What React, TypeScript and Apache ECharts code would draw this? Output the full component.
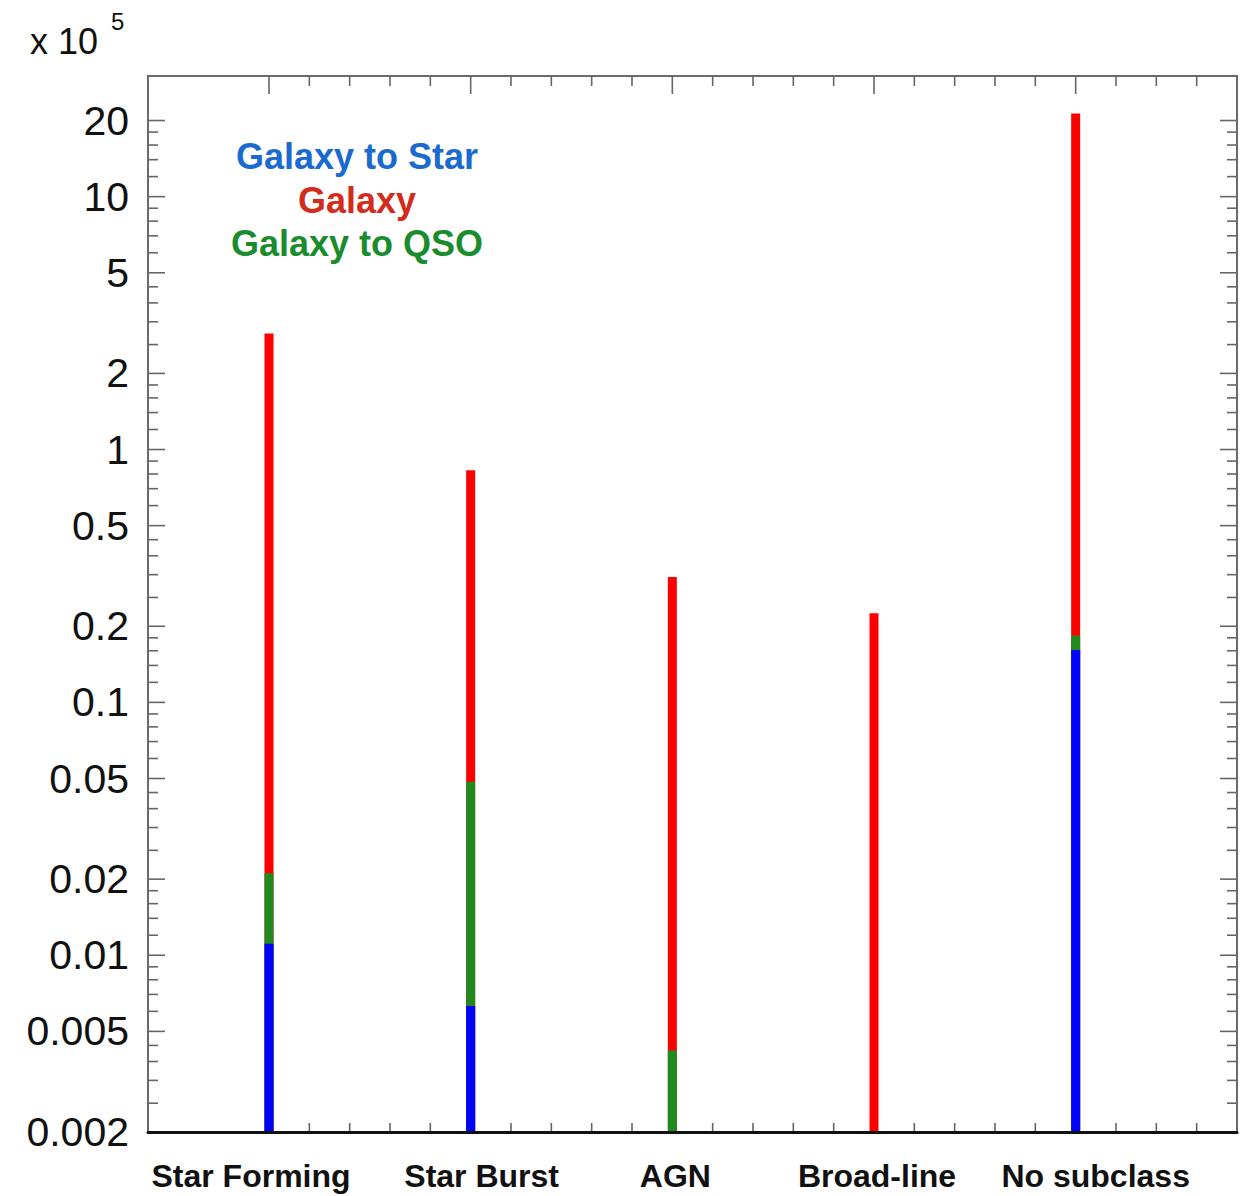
import React, { useEffect, useRef } from 'react';
import * as echarts from 'echarts';

// ---------- data (counts in units of 10^5) ----------
const CATEGORIES = ['Star Forming', 'Star Burst', 'AGN', 'Broad-line', 'No subclass'];
const CATEGORY_X = [1, 2, 3, 4, 5];
const GALAXY_TO_STAR = [0.0111, 0.0063, 0, 0, 0.161];
const GALAXY_TO_QSO = [0.01, 0.0422, 0.0042, 0, 0.023];
const GALAXY = [2.857, 0.779, 0.309, 0.225, 21.12];

// ---------- axis ticks ----------
const Y_TICK_VALUES = [20, 10, 5, 2, 1, 0.5, 0.2, 0.1, 0.05, 0.02, 0.01, 0.005, 0.002];
const Y_TICK_LABELS = ['20', '10', '5', '2', '1', '0.5', '0.2', '0.1', '0.05', '0.02', '0.01', '0.005', '0.002'];
const X_MAJOR_TICKS = [1, 2, 3, 4, 5];
const X_MINOR_TICKS = [
  1.2, 1.4, 1.6, 1.8, 2.2, 2.4, 2.6, 2.8, 3.2, 3.4, 3.6, 3.8,
  4.2, 4.4, 4.6, 4.8, 5.2, 5.4, 5.6,
];

const X_MIN = 0.4;
const X_MAX = 5.8;
const Y_MIN = 0.002;
const Y_MAX = 30;

// ---------- style / layout ----------
const FONT = '"Liberation Sans", Arial, Helvetica, sans-serif';
const TICK_COLOR = '#666';
const LABEL_NUDGE = [-18, 11, 3, 3, 20];
const RED = '#ff0000';
const GREEN = '#1f8a1f';
const BLUE = '#0000ff';

// minor y ticks: 4 linear subdivisions between consecutive labelled ticks
const Y_MINOR_TICKS: number[] = [];
for (let i = 0; i < Y_TICK_VALUES.length - 1; i++) {
  const hi = Y_TICK_VALUES[i];
  const lo = Y_TICK_VALUES[i + 1];
  for (let k = 1; k <= 4; k++) Y_MINOR_TICKS.push(lo + ((hi - lo) * k) / 5);
}

export default function App() {
  const ref = useRef<HTMLDivElement>(null);

  useEffect(() => {
    if (!ref.current) return;
    const chart = echarts.init(ref.current, undefined, { renderer: 'svg' });

    const blueTop = GALAXY_TO_STAR.map((v) => v);
    const greenTop = GALAXY_TO_STAR.map((v, i) => v + GALAXY_TO_QSO[i]);
    const redTop = greenTop.map((v, i) => v + GALAXY[i]);

    const barData = (tops: number[], parts: number[]) =>
      CATEGORY_X.map((x, i) => (parts[i] > 0 ? [x, tops[i]] : [x, '-']));

    const tickLine = (x1: number, y1: number, x2: number, y2: number) => ({
      type: 'line',
      shape: { x1, y1, x2, y2 },
      style: { stroke: TICK_COLOR, lineWidth: 1.6 },
    });

    const option: any = {
      animation: false,
      backgroundColor: '#ffffff',
      grid: {
        left: 148,
        right: 13,
        top: 76,
        bottom: 64,
        show: true,
        borderColor: '#6a6a6a',
        borderWidth: 2,
        backgroundColor: 'transparent',
      },
      xAxis: {
        type: 'value',
        min: X_MIN,
        max: X_MAX,
        z: 10,
        axisLine: { show: true, onZero: false, lineStyle: { color: '#111', width: 3 } },
        axisTick: { show: false },
        axisLabel: { show: false },
        splitLine: { show: false },
      },
      yAxis: {
        type: 'log',
        logBase: 10,
        min: Y_MIN,
        max: Y_MAX,
        startValue: Y_MIN,
        axisLine: { show: false },
        axisTick: { show: false },
        axisLabel: { show: false },
        splitLine: { show: false },
      },
      graphic: [
        {
          type: 'text',
          x: 30,
          y: 41,
          style: { text: 'x 10', font: `36px ${FONT}`, fill: '#111', align: 'left', verticalAlign: 'middle' },
        },
        {
          type: 'text',
          x: 111,
          y: 21,
          style: { text: '5', font: `24px ${FONT}`, fill: '#111', align: 'left', verticalAlign: 'middle' },
        },
        {
          type: 'text',
          x: 357,
          y: 156,
          style: { text: 'Galaxy to Star', font: `bold 36px ${FONT}`, fill: '#1b6ad0', align: 'center', verticalAlign: 'middle' },
        },
        {
          type: 'text',
          x: 357,
          y: 200,
          style: { text: 'Galaxy', font: `bold 36px ${FONT}`, fill: '#d22c1c', align: 'center', verticalAlign: 'middle' },
        },
        {
          type: 'text',
          x: 357,
          y: 243,
          style: { text: 'Galaxy to QSO', font: `bold 36px ${FONT}`, fill: '#1a8c2e', align: 'center', verticalAlign: 'middle' },
        },
      ],
      series: [
        {
          name: 'yMajorTicks',
          type: 'custom',
          silent: true,
          data: Y_TICK_VALUES.map((v) => [X_MIN, v]),
          renderItem: (params: any, api: any) => {
            const cs = params.coordSys;
            const v = api.value(1);
            const y = api.coord([X_MIN, v])[1];
            const L = cs.x;
            const R = cs.x + cs.width;
            const children: any[] = [];
            if (v > Y_MIN) {
              children.push(tickLine(L, y, L + 17, y), tickLine(R - 17, y, R, y));
            }
            children.push({
              type: 'text',
              x: L - 19,
              y,
              style: {
                text: Y_TICK_LABELS[params.dataIndex],
                font: `41px ${FONT}`,
                fill: '#111',
                align: 'right',
                verticalAlign: 'middle',
              },
            });
            return { type: 'group', children };
          },
        },
        {
          name: 'yMinorTicks',
          type: 'custom',
          silent: true,
          data: Y_MINOR_TICKS.map((v) => [X_MIN, v]),
          renderItem: (params: any, api: any) => {
            const cs = params.coordSys;
            const y = api.coord([X_MIN, api.value(1)])[1];
            const L = cs.x;
            const R = cs.x + cs.width;
            return {
              type: 'group',
              children: [tickLine(L, y, L + 10, y), tickLine(R - 10, y, R, y)],
            };
          },
        },
        {
          name: 'xMajorTicks',
          type: 'custom',
          silent: true,
          data: X_MAJOR_TICKS.map((x) => [x, Y_MIN]),
          renderItem: (params: any, api: any) => {
            const cs = params.coordSys;
            const x = api.coord([api.value(0), Y_MIN])[0];
            const T = cs.y;
            const B = cs.y + cs.height;
            return {
              type: 'group',
              children: [tickLine(x, T, x, T + 18), tickLine(x, B - 18, x, B)],
            };
          },
        },
        {
          name: 'xMinorTicks',
          type: 'custom',
          silent: true,
          data: X_MINOR_TICKS.map((x) => [x, Y_MIN]),
          renderItem: (params: any, api: any) => {
            const cs = params.coordSys;
            const x = api.coord([api.value(0), Y_MIN])[0];
            const T = cs.y;
            const B = cs.y + cs.height;
            return {
              type: 'group',
              children: [tickLine(x, T, x, T + 10), tickLine(x, B - 9, x, B)],
            };
          },
        },
        {
          name: 'xLabels',
          type: 'custom',
          silent: true,
          data: CATEGORY_X.map((x) => [x, Y_MIN]),
          renderItem: (params: any, api: any) => {
            const p = api.coord([api.value(0), Y_MIN]);
            return {
              type: 'text',
              x: p[0] + LABEL_NUDGE[params.dataIndex],
              y: p[1] + 44,
              style: {
                text: CATEGORIES[params.dataIndex],
                font: `bold 32px ${FONT}`,
                fill: '#111',
                align: 'center',
                verticalAlign: 'middle',
              },
            };
          },
        },
        {
          name: 'Galaxy',
          type: 'bar',
          barWidth: 9,
          barGap: '-100%',
          itemStyle: { color: RED },
          data: barData(redTop, GALAXY),
        },
        {
          name: 'Galaxy to QSO',
          type: 'bar',
          barWidth: 9,
          barGap: '-100%',
          itemStyle: { color: GREEN },
          data: barData(greenTop, GALAXY_TO_QSO),
        },
        {
          name: 'Galaxy to Star',
          type: 'bar',
          barWidth: 9,
          barGap: '-100%',
          itemStyle: { color: BLUE },
          data: barData(blueTop, GALAXY_TO_STAR),
        },
      ],
    };

    chart.setOption(option);
    return () => chart.dispose();
  }, []);

  return (
    <div
      ref={ref}
      style={{ position: 'fixed', left: 0, top: 0, width: 1250, height: 1196, background: '#fff' }}
    />
  );
}
